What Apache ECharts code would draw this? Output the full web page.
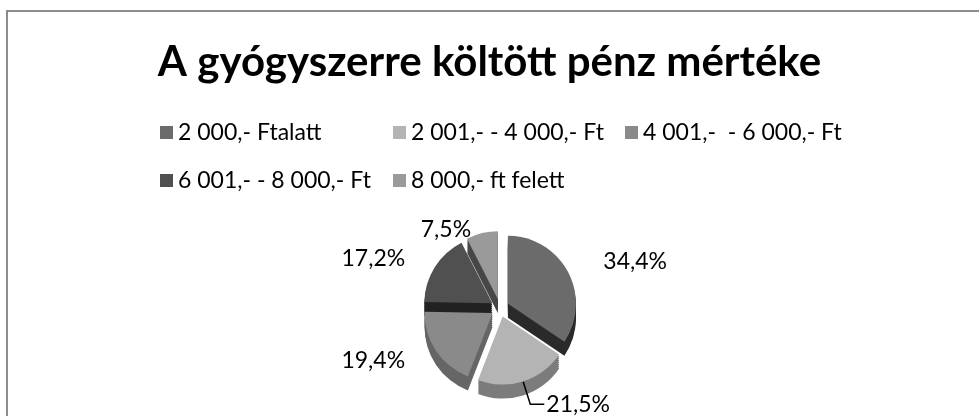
<!DOCTYPE html>
<html>
<head>
<meta charset="utf-8">
<script src="https://cdn.jsdelivr.net/npm/echarts@6/dist/echarts.min.js"></script>
<style>
html, body { margin: 0; background: #fff; }
#chart { width: 979px; height: 416px; }
</style>
</head>
<body>
<div id="chart"></div>
<script>
// adatok
var categories = ['2 000,- Ftalatt', '2 001,- - 4 000,- Ft', '4 001,-  - 6 000,- Ft', '6 001,- - 8 000,- Ft', '8 000,- ft felett'];
var shares = [34.4, 21.5, 19.4, 17.2, 7.5];
var topColors = ['#6b6b6b', '#b4b4b4', '#8a8a8a', '#505050', '#9a9a9a'];
var sideColors = ['#2a2a2a', '#7c7c7c', '#666666', '#222222', '#474747'];

var font = 'Lato';
var chart = echarts.init(document.getElementById('chart'));

// legend items placed like the original (3 columns)
var legendPos = [[160, 121], [393, 121], [625, 121], [160, 169], [393, 169]];
var legends = categories.map(function (name, i) {
	return {
		data: [name],
		left: legendPos[i][0],
		top: legendPos[i][1],
		padding: 0,
		icon: 'rect',
		itemWidth: 13,
		itemHeight: 13,
		itemGap: 6,
		selectedMode: false,
		textStyle: { fontFamily: font, fontSize: 23, color: '#000' }
	};
});

// label leader lengths per slice (only the 21,5% one is drawn)
var labelLen = [[22, 14], [24, 14], [18, 14], [16, 14], [4, 8]];

var cx = 500, cy = 308, r = 68;
var series = [];

// top face
series.push({
	type: 'pie',
	z: 5,
	center: [cx, cy],
	radius: r,
	startAngle: 90,
	selectedMode: 'multiple',
	selectedOffset: 9,
	animation: false,
	label: {
		show: true,
		position: 'outside',
		fontFamily: font,
		fontSize: 23,
		color: '#000',
		distanceToLabelLine: 2,
		formatter: function (p) {
			return p.value.toFixed(1).replace('.', ',') + '%';
		}
	},
	labelLine: { show: false, lineStyle: { color: '#000', width: 1.5 } },
	data: shares.map(function (v, i) {
		return {
			name: categories[i],
			value: v,
			selected: true,
			itemStyle: { color: topColors[i] },
			labelLine: { show: i === 1, length: labelLen[i][0], length2: labelLen[i][1] }
		};
	})
});

// side walls (stacked darker copies)
[14, 12, 10, 8, 6, 4, 2].forEach(function (dy) {
	series.push({
		type: 'pie',
		z: 2,
		silent: true,
		center: [cx, cy + dy],
		radius: r,
		startAngle: 90,
		selectedMode: 'multiple',
		selectedOffset: 9,
		animation: false,
		label: { show: false },
		labelLine: { show: false },
		data: shares.map(function (v, i) {
			return { name: categories[i], value: v, selected: true, itemStyle: { color: sideColors[i] } };
		})
	});
});

var option = {
	backgroundColor: '#fff',
	title: {
		text: 'A gyógyszerre költött pénz mértéke',
		left: 'center',
		top: 36,
		textStyle: { fontFamily: font, fontSize: 42, fontWeight: 'bold', color: '#000' }
	},
	legend: legends,
	graphic: [{
		type: 'rect',
		shape: { x: 7, y: 11, width: 1000, height: 500 },
		style: { fill: 'none', stroke: '#8c8c8c', lineWidth: 2 }
	}],
	series: series
};
chart.setOption(option);
window.onresize = function () {
	chart.resize();
};
</script>
</body>
</html>
